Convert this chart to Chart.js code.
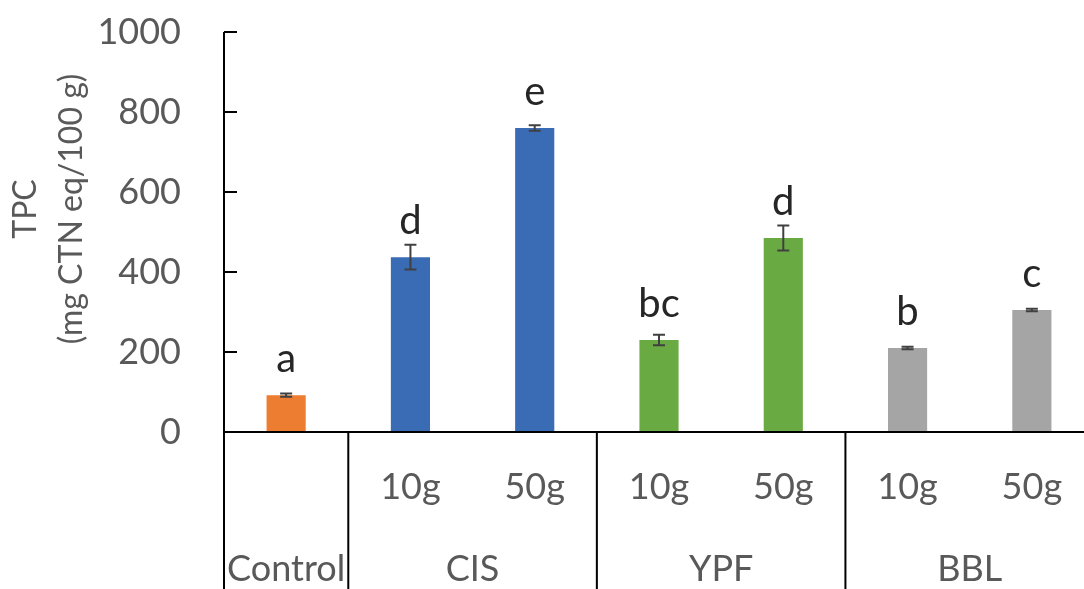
<!DOCTYPE html>
<html>
<head>
<meta charset="utf-8">
<script src="https://cdn.jsdelivr.net/npm/chart.js@4.4.1/dist/chart.umd.min.js"></script>
<style>
  html, body { margin: 0; padding: 0; background: #fff; overflow: hidden; }
  canvas { display: block; }
</style>
</head>
<body>
<canvas id="c" width="1094" height="589"></canvas>
<script>
// Treatment groups and dose levels
const groupNames = ['Control', 'CIS', 'CIS', 'YPF', 'YPF', 'BBL', 'BBL'];
const doseLabels = ['', '10g', '50g', '10g', '50g', '10g', '50g'];
// Total phenolic content (mg CTN eq/100 g) and its error
const tpcValues = [92, 437, 760, 230, 485, 210, 305];
const tpcErrors = [4, 31, 7, 13, 31, 3, 3];
// Significance letters
const sigLetters = ['a', 'd', 'e', 'bc', 'd', 'b', 'c'];
// Y axis ticks
const yTicks = [0, 200, 400, 600, 800, 1000];

const barColors = ['#ED7D31', '#3A6BB5', '#3A6BB5', '#6AAA42', '#6AAA42', '#A5A5A5', '#A5A5A5'];
const FONT = 'Lato, "Open Sans", sans-serif';
const GREY = '#595959';

const decorPlugin = {
  id: 'decor',
  afterDatasetsDraw(chart) {
    const {ctx, scales: {x, y}, chartArea} = chart;
    const H = chart.height;
    ctx.save();

    // error bars, and letters above each bar
    tpcValues.forEach((v, i) => {
      const cx = x.getPixelForValue(i);
      const yTop = y.getPixelForValue(v + tpcErrors[i]);
      const yBot = y.getPixelForValue(v - tpcErrors[i]);
      ctx.strokeStyle = '#404040';
      ctx.lineWidth = 2;
      ctx.beginPath();
      ctx.moveTo(cx, yTop); ctx.lineTo(cx, yBot);
      ctx.moveTo(cx - 6, yTop); ctx.lineTo(cx + 6, yTop);
      ctx.moveTo(cx - 6, yBot); ctx.lineTo(cx + 6, yBot);
      ctx.stroke();

      ctx.fillStyle = '#262626';
      ctx.font = '40px ' + FONT;
      ctx.textAlign = 'center';
      ctx.textBaseline = 'alphabetic';
      ctx.fillText(sigLetters[i], cx, y.getPixelForValue(v) - 23);
    });

    // axis lines
    ctx.strokeStyle = '#000';
    ctx.lineWidth = 2;
    const left = chartArea.left;
    const zeroY = y.getPixelForValue(0);
    ctx.beginPath();
    ctx.moveTo(left, y.getPixelForValue(1000));
    ctx.lineTo(left, H);
    ctx.moveTo(left, zeroY);
    ctx.lineTo(chartArea.right, zeroY);
    // inside tick marks
    yTicks.forEach(t => {
      const ty = y.getPixelForValue(t);
      ctx.moveTo(left, ty);
      ctx.lineTo(left + 13, ty);
    });
    // group dividers
    for (let i = 1; i < groupNames.length; i++) {
      if (groupNames[i] !== groupNames[i - 1]) {
        const bx = (x.getPixelForValue(i - 1) + x.getPixelForValue(i)) / 2;
        ctx.moveTo(bx, zeroY);
        ctx.lineTo(bx, H);
      }
    }
    ctx.stroke();

    // group labels
    ctx.fillStyle = GREY;
    ctx.font = '36px ' + FONT;
    ctx.textAlign = 'center';
    ctx.textBaseline = 'middle';
    let start = 0;
    for (let i = 1; i <= groupNames.length; i++) {
      if (i === groupNames.length || groupNames[i] !== groupNames[start]) {
        const gx = (x.getPixelForValue(start) + x.getPixelForValue(i - 1)) / 2;
        ctx.fillText(groupNames[start], gx, 569);
        start = i;
      }
    }

    // y axis title (two lines, rotated)
    ctx.font = '32px ' + FONT;
    ctx.translate(0, 209);
    ctx.rotate(-Math.PI / 2);
    ctx.fillText('TPC', 0, 26);
    ctx.fillText('(mg CTN eq/100 g)', 0, 72);
    ctx.restore();
  }
};

new Chart(document.getElementById('c'), {
  type: 'bar',
  data: {
    labels: doseLabels,
    datasets: [{
      data: tpcValues,
      backgroundColor: barColors,
      barPercentage: 0.315,
      categoryPercentage: 1
    }]
  },
  options: {
    responsive: false,
    animation: false,
    layout: { padding: { top: 32, right: 0, bottom: 0, left: 0 } },
    plugins: { legend: { display: false }, tooltip: { enabled: false } },
    scales: {
      x: {
        grid: { display: false },
        border: { display: false },
        ticks: {
          color: GREY,
          font: { family: FONT, size: 36 },
          padding: 26,
          maxRotation: 0,
          autoSkip: false
        },
        afterFit(scale) {
          scale.height = 157;
          scale.paddingLeft = 0;
          scale.paddingRight = 0;
        }
      },
      y: {
        min: 0,
        max: 1000,
        grid: { display: false },
        border: { display: false },
        afterBuildTicks(scale) { scale.ticks = yTicks.map(v => ({ value: v })); },
        ticks: {
          color: GREY,
          font: { family: FONT, size: 36 },
          padding: 35,
          callback: v => String(v)
        },
        afterFit(scale) {
          scale.width = 224;
          scale.paddingTop = 0;
          scale.paddingBottom = 0;
        }
      }
    }
  },
  plugins: [decorPlugin]
});
</script>
</body>
</html>
